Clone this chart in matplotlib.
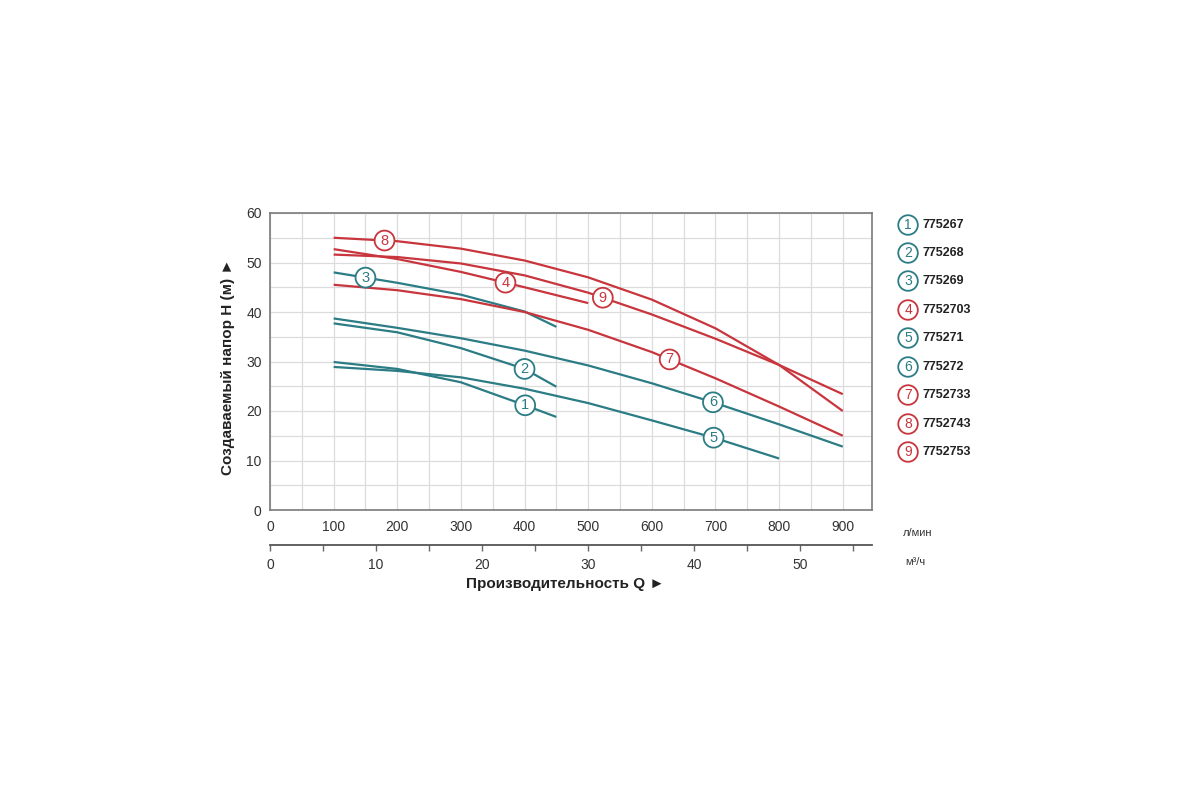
import numpy as np
import matplotlib
matplotlib.use("Agg")
import matplotlib.pyplot as plt

plt.rcParams['font.family'] = ['Liberation Sans', 'DejaVu Sans']

# ---- data (Q in l/min, H in m) ----
q1 = [100, 200, 300, 400, 450]
h1 = [29.9, 28.5, 25.8, 21.2, 18.8]
q2 = [100, 200, 300, 400, 450]
h2 = [37.7, 35.9, 32.7, 28.5, 24.9]
q3 = [100, 200, 300, 400, 450]
h3 = [48.0, 45.9, 43.5, 40.1, 37.0]
q4 = [100, 200, 300, 400, 500]
h4 = [52.7, 50.7, 48.1, 45.0, 41.8]
q5 = [100, 200, 300, 400, 500, 600, 700, 800]
h5 = [28.9, 28.1, 26.8, 24.5, 21.6, 18.1, 14.5, 10.4]
q6 = [100, 200, 300, 400, 500, 600, 700, 800, 900]
h6 = [38.7, 36.8, 34.7, 32.2, 29.2, 25.6, 21.6, 17.3, 12.8]
q7 = [100, 200, 300, 400, 500, 600, 700, 800, 900]
h7 = [45.5, 44.4, 42.6, 40.0, 36.4, 31.9, 26.6, 20.9, 15.0]
q8 = [100, 200, 300, 400, 500, 600, 700, 800, 900]
h8 = [55.0, 54.3, 52.8, 50.4, 47.0, 42.5, 36.7, 29.3, 20.0]
q9 = [100, 200, 300, 400, 500, 600, 700, 800, 900]
h9 = [51.6, 51.1, 49.8, 47.4, 43.9, 39.5, 34.6, 29.3, 23.4]

models = ['775267', '775268', '775269', '7752703', '775271',
          '775272', '7752733', '7752743', '7752753']
numbers = ['1', '2', '3', '4', '5', '6', '7', '8', '9']
label_q = [401, 400, 150, 370, 697, 696, 628, 180, 523]

x_ticks = [0, 100, 200, 300, 400, 500, 600, 700, 800, 900]
y_ticks = [0, 10, 20, 30, 40, 50, 60]
m3_ticks = [0, 10, 20, 30, 40, 50]

TEAL = '#2b7c84'
RED = '#c8353d'
colors = [TEAL, TEAL, TEAL, RED, TEAL, TEAL, RED, RED, RED]
series = [(q1, h1), (q2, h2), (q3, h3), (q4, h4), (q5, h5),
          (q6, h6), (q7, h7), (q8, h8), (q9, h9)]

fig = plt.figure(figsize=(12, 8), dpi=100)
fig.patch.set_facecolor('white')
ax = fig.add_axes([0.225, 0.3625, 0.5017, 0.37125])

ax.set_xlim(0, 946)
ax.set_ylim(0, 60)

ax.set_xticks(x_ticks)
ax.set_xticks(np.arange(50, 946, 100), minor=True)
ax.set_yticks(y_ticks)
ax.set_yticks(np.arange(5, 60, 10), minor=True)
ax.grid(True, which='both', color='#dcdcdc', linewidth=0.9)
ax.set_axisbelow(True)
ax.tick_params(which='both', length=0)
ax.tick_params(axis='x', pad=7, labelsize=10, colors='#333333')
ax.tick_params(axis='y', pad=6, labelsize=10, colors='#333333')
for s in ax.spines.values():
    s.set_color('#7a7a7a')
    s.set_linewidth(1.2)

for (q, h), c, n, lq in zip(series, colors, numbers, label_q):
    ax.plot(q, h, color=c, linewidth=1.6, solid_capstyle='butt',
            solid_joinstyle='round', zorder=3)
    ly = np.interp(lq, q, h)
    ax.text(lq, ly, n, ha='center', va='center', fontsize=10.5, color=c,
            zorder=5,
            bbox=dict(boxstyle='circle,pad=0.2', facecolor='white',
                      edgecolor=c, linewidth=1.3))

# secondary axis in m3/h
sec = ax.secondary_xaxis(-0.118, functions=(lambda q: q * 0.06,
                                            lambda m: m / 0.06))
sec.set_xticks(m3_ticks)
sec.set_xticks(np.arange(5, 56, 10), minor=True)
sec.xaxis.set_minor_formatter(plt.NullFormatter())
sec.tick_params(which='both', direction='out', length=4.5, width=1,
                color='#666666', labelsize=10, labelcolor='#333333', pad=5)
sec.spines['bottom'].set_color('#555555')
sec.spines['bottom'].set_linewidth(1.3)

fig.text(0.765, 0.334, 'л/мин', fontsize=8, color='#333333',
         ha='center', va='center')
fig.text(0.763, 0.2975, 'м³/ч', fontsize=8, color='#333333',
         ha='center', va='center')

fig.text(0.471, 0.27, 'Производительность Q ►', fontsize=11,
         fontweight='bold', ha='center', va='center', color='#222222')
fig.text(0.19, 0.541, 'Создаваемый напор H (м) ►', fontsize=11,
         fontweight='bold', ha='center', va='center', rotation=90,
         color='#222222')

# legend
row_y = [225, 253, 281, 310, 338, 367, 395, 424, 452]
for n, m, c, yp in zip(numbers, models, colors, row_y):
    fy = 1 - yp / 800
    fig.text(0.7567, fy, n, ha='center', va='center', fontsize=10,
             color=c,
             bbox=dict(boxstyle='circle,pad=0.2', facecolor='white',
                       edgecolor=c, linewidth=1.3))
    fig.text(0.769, fy, m, ha='left', va='center', fontsize=9,
             fontweight='bold', color='#222222')

fig.savefig('out.png', dpi=100, facecolor='white')
